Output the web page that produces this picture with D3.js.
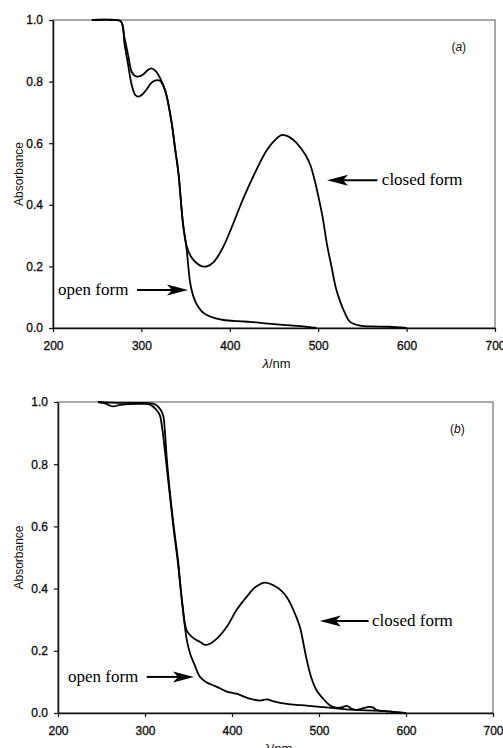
<!DOCTYPE html>
<html>
<head>
<meta charset="utf-8">
<script src="https://cdn.jsdelivr.net/npm/d3@7"></script>
<style>
  body { margin: 0; background: #fff; }
  svg { display: block; }
</style>
</head>
<body>
<div id="chart"></div>
<script>
// wavelength (nm), absorbance
const xTicks = [200, 300, 400, 500, 600, 700];
const yTicks = [0, 0.2, 0.4, 0.6, 0.8, 1.0];

const aOpen = [[244,1.0],[270,1.0],[277,0.995],[281,0.94],[285,0.886],[289,0.832],[293,0.818],[296,0.816],[302,0.823],[307,0.837],[311,0.843],[316,0.835],[321,0.812],[327,0.77],[334,0.67],[338,0.585],[342,0.5],[347,0.34],[351,0.26],[355,0.15],[358,0.11],[362,0.08],[368,0.055],[374,0.042],[383,0.032],[393,0.026],[410,0.022],[423,0.02],[440,0.015],[460,0.01],[480,0.006],[498,0.0]];
const aClosed = [[244,1.0],[270,1.0],[277,0.995],[281,0.92],[285,0.854],[289,0.79],[293,0.757],[296.5,0.751],[301,0.758],[306,0.775],[311,0.795],[316,0.804],[321,0.803],[327,0.77],[334,0.67],[338,0.585],[342,0.5],[347,0.34],[351,0.268],[356,0.232],[362,0.212],[368,0.201],[374,0.2],[382,0.215],[392,0.26],[404,0.34],[413,0.405],[423,0.47],[432,0.525],[442,0.578],[451,0.61],[459,0.627],[466,0.622],[474,0.605],[480,0.585],[486,0.56],[491,0.53],[496,0.48],[500,0.43],[505,0.36],[510,0.27],[515,0.2],[520,0.13],[525,0.085],[530,0.05],[536,0.02],[547,0.008],[560,0.005],[580,0.004],[600,0.0]];

const bOpen = [[246,1.0],[255,0.995],[260,0.988],[264,0.986],[270,0.99],[280,0.993],[300,0.994],[305,0.992],[308,0.988],[313,0.975],[317,0.958],[320,0.91],[323,0.84],[327,0.74],[333,0.59],[338,0.48],[340,0.425],[343,0.345],[346,0.275],[348,0.235],[352,0.19],[357,0.155],[363,0.117],[370,0.1],[382,0.085],[390,0.074],[394,0.069],[405,0.062],[419,0.047],[432,0.04],[440,0.044],[448,0.037],[463,0.029],[480,0.025],[501,0.02],[520,0.015],[540,0.01],[570,0.007],[600,0.0]];
const bClosed = [[246,1.0],[260,0.998],[280,0.997],[300,0.997],[306,0.996],[310,0.994],[314,0.988],[318,0.975],[321,0.955],[323,0.9],[325,0.82],[329,0.7],[333,0.6],[338,0.49],[340,0.43],[343,0.35],[346,0.285],[348,0.265],[353,0.247],[358,0.236],[363,0.229],[369,0.219],[374,0.222],[383,0.24],[394,0.277],[405,0.33],[417,0.374],[427,0.405],[438,0.419],[448,0.41],[456,0.395],[463,0.372],[470,0.335],[478,0.277],[482,0.225],[486,0.17],[491,0.115],[497,0.074],[505,0.045],[512,0.026],[520,0.017],[526,0.018],[532,0.023],[537,0.015],[543,0.01],[550,0.015],[558,0.02],[562,0.018],[566,0.01],[580,0.005],[597,0.0]];

// arrows: tip and tail in data units, text start wavelength
const notesA = [
  { text: "closed form", tip: [510, 0.48], tail: [567, 0.48], textAt: 572 },
  { text: "open form", tip: [352.7, 0.123], tail: [295, 0.123], textAt: 205.7 }
];
const notesB = [
  { text: "closed form", tip: [501, 0.296], tail: [557, 0.296], textAt: 561 },
  { text: "open form", tip: [356.3, 0.116], tail: [302, 0.116], textAt: 211.5 }
];

const width = 503, height = 748;
const svg = d3.select("#chart").append("svg")
  .attr("width", width)
  .attr("height", height);

const sans = "'Liberation Sans', Arial, sans-serif";

function drawPanel(box, open, closed, tag, notes) {
  const x = d3.scaleLinear().domain([200, 700]).range([box.left, box.right]);
  const y = d3.scaleLinear().domain([0, 1]).range([box.bottom, box.top]);
  const g = svg.append("g");

  // frame
  g.append("rect")
    .attr("x", box.left).attr("y", box.top)
    .attr("width", box.right - box.left).attr("height", box.bottom - box.top)
    .attr("fill", "none").attr("stroke", "#555").attr("stroke-width", 1);

  const yAxis = g.append("g")
    .attr("transform", `translate(${box.left},0)`)
    .call(d3.axisLeft(y).tickValues(yTicks).tickFormat(d3.format(".1f")).tickSize(4).tickSizeOuter(0).tickPadding(6));
  const xAxis = g.append("g")
    .attr("transform", `translate(0,${box.bottom})`)
    .call(d3.axisBottom(x).tickValues(xTicks).tickSize(4).tickSizeOuter(0).tickPadding(9));

  [yAxis, xAxis].forEach(a => {
    a.select(".domain").attr("stroke", "#111").attr("stroke-width", 1.5);
    a.selectAll(".tick line").attr("stroke", "#111").attr("stroke-width", 1.2);
    a.selectAll(".tick text")
      .attr("fill", "#111")
      .attr("stroke", "#111")
      .attr("stroke-width", 0.35)
      .style("font-family", sans)
      .style("font-size", "12px");
  });

  const line = d3.line()
    .x(d => x(d[0]))
    .y(d => y(d[1]))
    .curve(d3.curveCatmullRom.alpha(0.5));

  [open, closed].forEach(s => {
    g.append("path")
      .attr("d", line(s))
      .attr("fill", "none")
      .attr("stroke", "#000")
      .attr("stroke-width", 1.8)
      .attr("stroke-linejoin", "round");
  });

  // axis titles
  g.append("text")
    .attr("transform", `translate(23,${(box.top + box.bottom) / 2}) rotate(-90)`)
    .attr("text-anchor", "middle")
    .style("font-family", sans)
    .style("font-size", "12px")
    .attr("fill", "#111")
    .text("Absorbance");

  const xl = g.append("text")
    .attr("x", x(437))
    .attr("y", box.bottom + 40)
    .style("font-family", sans)
    .style("font-size", "13px")
    .attr("fill", "#111");
  xl.append("tspan").style("font-style", "italic").text("λ");
  xl.append("tspan").text("/nm");

  // panel tag
  const t = g.append("text")
    .attr("x", x(659))
    .attr("y", box.top + 31)
    .attr("text-anchor", "middle")
    .style("font-family", sans)
    .style("font-size", "12px")
    .attr("fill", "#111");
  t.append("tspan").text("(");
  t.append("tspan").style("font-style", "italic").text(tag);
  t.append("tspan").text(")");

  // annotations
  notes.forEach(n => {
    const tx = x(n.tip[0]), ty = y(n.tip[1]);
    const sx = x(n.tail[0]);
    const dir = sx > tx ? 1 : -1; // direction from tip towards tail
    const hl = 21, hw = 5.5, notch = 5;
    g.append("line")
      .attr("x1", sx).attr("y1", ty)
      .attr("x2", tx + dir * (hl - notch)).attr("y2", ty)
      .attr("stroke", "#000").attr("stroke-width", 2);
    g.append("path")
      .attr("d", `M${tx},${ty} L${tx + dir * hl},${ty - hw} L${tx + dir * (hl - notch)},${ty} L${tx + dir * hl},${ty + hw} Z`)
      .attr("fill", "#000");
    g.append("text")
      .attr("x", x(n.textAt))
      .attr("y", ty + 5)
      .style("font-family", "'Liberation Serif', 'Times New Roman', serif")
      .style("font-size", "17px")
      .attr("fill", "#000")
      .text(n.text);
  });
}

drawPanel({ left: 53, right: 495, top: 20, bottom: 328 }, aOpen, aClosed, "a", notesA);
drawPanel({ left: 58, right: 493, top: 402, bottom: 713 }, bOpen, bClosed, "b", notesB);
</script>
</body>
</html>
